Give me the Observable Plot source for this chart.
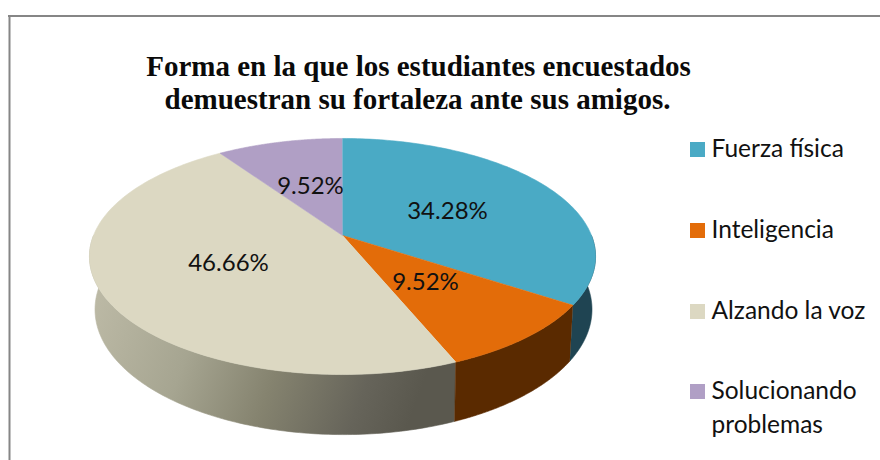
<!DOCTYPE html>
<html>
<head>
<meta charset="utf-8">
<style>html,body{margin:0;padding:0;background:#fff}svg{display:block}</style>
<script src="https://cdn.jsdelivr.net/npm/d3@7"></script>
<script src="https://cdn.jsdelivr.net/npm/@observablehq/plot@0.6"></script>
</head>
<body>
<script>
const categories = ["Fuerza física", "Inteligencia", "Alzando la voz", "Solucionando problemas"];
const values = [34.28, 9.52, 46.66, 9.52];
const valueLabels = ["34.28%", "9.52%", "46.66%", "9.52%"];
const topColors = ["#4aaac5", "#e36c09", "#dcd8c2", "#b09fc5"];
const sideColors = ["#1f4452", "#5a2a00", "url(#sideBeige)", "#5a5070"];
const titleLines = ["Forma en la que los estudiantes encuestados", "demuestran su fortaleza ante sus amigos."];

// perspective model of the pie
const P = {cx: 342, cy: 235, rx: 249, ry: 114.3, p: 0.178, bx: 0.982, bs: 1, by: 1.06, b0: 37.6};
const total = 100;
const ends = Array.from(d3.cumsum(values));
const starts = [0, ...ends.slice(0, -1)];
const rim = (pct) => {
  const a = pct / total * 2 * Math.PI, u = Math.sin(a), v = -Math.cos(a), d = 1 - P.p * v;
  return {x: P.cx + P.rx * u / d, y: P.cy + P.ry * v / d};
};
const low = (q) => ({x: P.cx + P.bs + P.bx * (q.x - P.cx), y: P.b0 + P.by * q.y});
const arc = (a, b) => d3.range(0, 121).map((i) => rim(a + (b - a) * i / 120));
const face = (i) => [{x: P.cx, y: P.cy}, ...arc(starts[i], Math.min(ends[i], total))];
// only the front half of the wall is visible
const side = (i) => {
  const t = arc(Math.max(starts[i], 25), Math.min(ends[i], 75));
  return [...t, ...t.map(low).reverse()];
};

const sideOrder = [0, 2, 1];
const faceMark = (pts, color) => Plot.line(pts, {x: "x", y: "y", fill: color, stroke: color, strokeWidth: 0.6, curve: "linear"});

const labelPos = [{x: 447, y: 219}, {x: 425, y: 290}, {x: 228, y: 271}, {x: 310, y: 194}];
const legendY = [142, 223, 304, 384];
const legendLines = [["Fuerza física"], ["Inteligencia"], ["Alzando la voz"], ["Solucionando", "problemas"]];
const legendRows = categories.map((c, i) => ({c, color: topColors[i], y: legendY[i]}));
const legendText = legendLines.flatMap((ls, i) => ls.map((t, j) => ({t, y: legendY[i] + 15 + j * 34})));

const chart = Plot.plot({
  width: 880, height: 460, margin: 0,
  x: {domain: [0, 880], range: [0, 880], axis: null},
  y: {domain: [0, 460], range: [0, 460], axis: null},
  style: {background: "#fff"},
  marks: [
    () => {
      const ns = "http://www.w3.org/2000/svg";
      const defs = document.createElementNS(ns, "defs");
      const g = document.createElementNS(ns, "linearGradient");
      g.setAttribute("id", "sideBeige");
      g.setAttribute("x1", "0"); g.setAttribute("y1", "0.1");
      g.setAttribute("x2", "1"); g.setAttribute("y2", "0.3");
      [[0, "#c0bda9"], [0.35, "#a6a591"], [0.6, "#85836f"], [0.85, "#66645a"], [1, "#5a584e"]].forEach(([o, c]) => {
        const s = document.createElementNS(ns, "stop");
        s.setAttribute("offset", o); s.setAttribute("stop-color", c);
        g.appendChild(s);
      });
      defs.appendChild(g);
      return defs;
    },
    Plot.ruleY([15.5], {x1: 8, x2: 880, stroke: "#868686", strokeWidth: 2}),
    Plot.ruleX([9], {y1: 15, y2: 460, stroke: "#868686", strokeWidth: 2}),
    ...sideOrder.map((i) => faceMark(side(i), sideColors[i])),
    ...values.map((_, i) => faceMark(face(i), topColors[i])),
    Plot.text(valueLabels.map((t, i) => ({t, ...labelPos[i]})), {
      x: "x", y: "y", text: "t", fontSize: 24, fontFamily: "Lato", fill: "#111",
      textAnchor: "middle", lineAnchor: "bottom", dy: -1
    }),
    Plot.text(titleLines, {
      x: [418, 417], y: [75, 108], text: (d) => d, fontSize: 29, fontWeight: "bold",
      fontFamily: "Liberation Serif", fill: "#0a0a0a", textAnchor: "middle", lineAnchor: "bottom", dy: 0
    }),
    Plot.rect(legendRows, {
      x1: () => 690, x2: () => 705, y1: "y", y2: (d) => d.y + 15, fill: "color"
    }),
    Plot.text(legendText, {
      x: () => 711, y: "y", text: "t", fontSize: 24.5, fontFamily: "Lato", fill: "#111",
      textAnchor: "start", lineAnchor: "bottom", dy: -1
    })
  ]
});
document.body.appendChild(chart);
</script>
</body>
</html>
